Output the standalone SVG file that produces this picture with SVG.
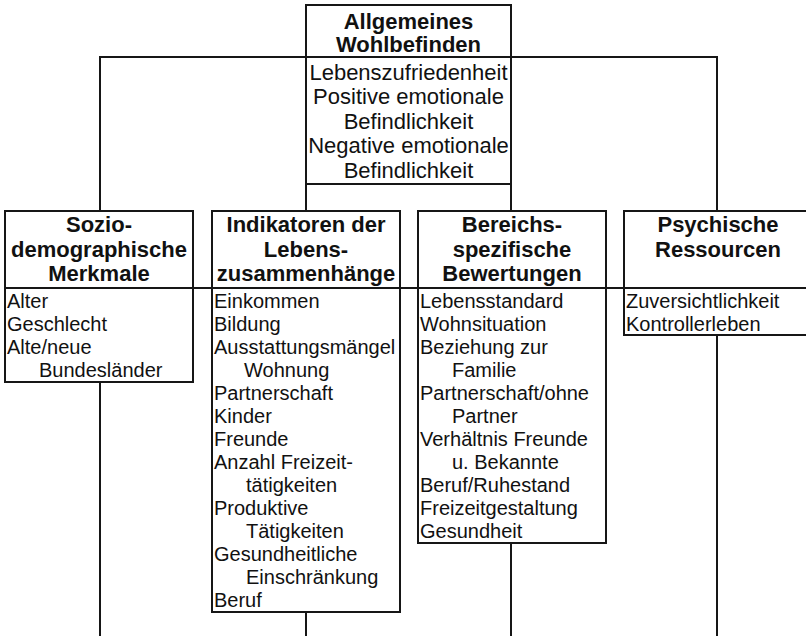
<svg xmlns="http://www.w3.org/2000/svg" width="806" height="636" viewBox="0 0 806 636">
<style>
.bx{fill:#fff;stroke:#161616;stroke-width:2}
.ln{fill:none;stroke:#161616;stroke-width:2}
text{font-family:"Liberation Sans",Arial,sans-serif;fill:#111}
.h{font-weight:bold;font-size:22px;text-anchor:middle}
.t{font-size:22px;text-anchor:middle}
.c{font-size:20px}
</style>
<rect width="806" height="636" fill="#fff"/>
<g id="connectors">
<path class="ln" d="M100,211V57H717V211"/>
<path class="ln" d="M306,184V211M511,184V211"/>
<path class="ln" d="M100,382V636M306,612V636M511,543V636M717,335V636"/>
<path class="ln" d="M193,288H212M400,288H418M606,288H624"/>
</g>
<g id="wohlbefinden">
<rect class="bx" x="306" y="5" width="205" height="179"/>
<path class="ln" d="M306,57H511"/>
<text class="h" x="408.5" y="28.5">Allgemeines</text>
<text class="h" x="408.5" y="52">Wohlbefinden</text>
<text class="t" x="408.5" y="79.5">Lebenszufriedenheit</text>
<text class="t" x="408.5" y="104">Positive emotionale</text>
<text class="t" x="408.5" y="128.5">Befindlichkeit</text>
<text class="t" x="408.5" y="153">Negative emotionale</text>
<text class="t" x="408.5" y="177.5">Befindlichkeit</text>
</g>
<g id="sozio">
<rect class="bx" x="5" y="211" width="188" height="171"/>
<path class="ln" d="M5,288H193"/>
<text class="h" x="99" y="232">Sozio-</text>
<text class="h" x="99" y="256.5">demographische</text>
<text class="h" x="99" y="280.5">Merkmale</text>
<text class="c" x="7" y="308">Alter</text>
<text class="c" x="7" y="331">Geschlecht</text>
<text class="c" x="7" y="354">Alte/neue</text>
<text class="c" x="39" y="377">Bundesländer</text>
</g>
<g id="indikatoren">
<rect class="bx" x="212" y="211" width="188" height="401"/>
<path class="ln" d="M212,288H400"/>
<text class="h" x="306" y="232">Indikatoren der</text>
<text class="h" x="306" y="256.5">Lebens-</text>
<text class="h" x="306" y="280.5">zusammenhänge</text>
<text class="c" x="214" y="308">Einkommen</text>
<text class="c" x="214" y="331">Bildung</text>
<text class="c" x="214" y="354">Ausstattungsmängel</text>
<text class="c" x="244" y="377">Wohnung</text>
<text class="c" x="214" y="400">Partnerschaft</text>
<text class="c" x="214" y="423">Kinder</text>
<text class="c" x="214" y="446">Freunde</text>
<text class="c" x="214" y="469">Anzahl Freizeit-</text>
<text class="c" x="246" y="492">tätigkeiten</text>
<text class="c" x="214" y="515">Produktive</text>
<text class="c" x="246" y="538">Tätigkeiten</text>
<text class="c" x="214" y="561">Gesundheitliche</text>
<text class="c" x="246" y="584">Einschränkung</text>
<text class="c" x="214" y="607">Beruf</text>
</g>
<g id="bereichs">
<rect class="bx" x="418" y="211" width="188" height="332"/>
<path class="ln" d="M418,288H606"/>
<text class="h" x="512" y="232">Bereichs-</text>
<text class="h" x="512" y="256.5">spezifische</text>
<text class="h" x="512" y="280.5">Bewertungen</text>
<text class="c" x="420" y="308">Lebensstandard</text>
<text class="c" x="420" y="331">Wohnsituation</text>
<text class="c" x="420" y="354">Beziehung zur</text>
<text class="c" x="452" y="377">Familie</text>
<text class="c" x="420" y="400">Partnerschaft/ohne</text>
<text class="c" x="452" y="423">Partner</text>
<text class="c" x="420" y="446">Verhältnis Freunde</text>
<text class="c" x="452" y="469">u. Bekannte</text>
<text class="c" x="420" y="492">Beruf/Ruhestand</text>
<text class="c" x="420" y="515">Freizeitgestaltung</text>
<text class="c" x="420" y="538">Gesundheit</text>
</g>
<g id="psychische">
<rect class="bx" x="624" y="211" width="190" height="124"/>
<path class="ln" d="M624,288H806"/>
<text class="h" x="718" y="232">Psychische</text>
<text class="h" x="718" y="256.5">Ressourcen</text>
<text class="c" x="626" y="307.5">Zuversichtlichkeit</text>
<text class="c" x="626" y="330.5">Kontrollerleben</text>
</g>
</svg>
